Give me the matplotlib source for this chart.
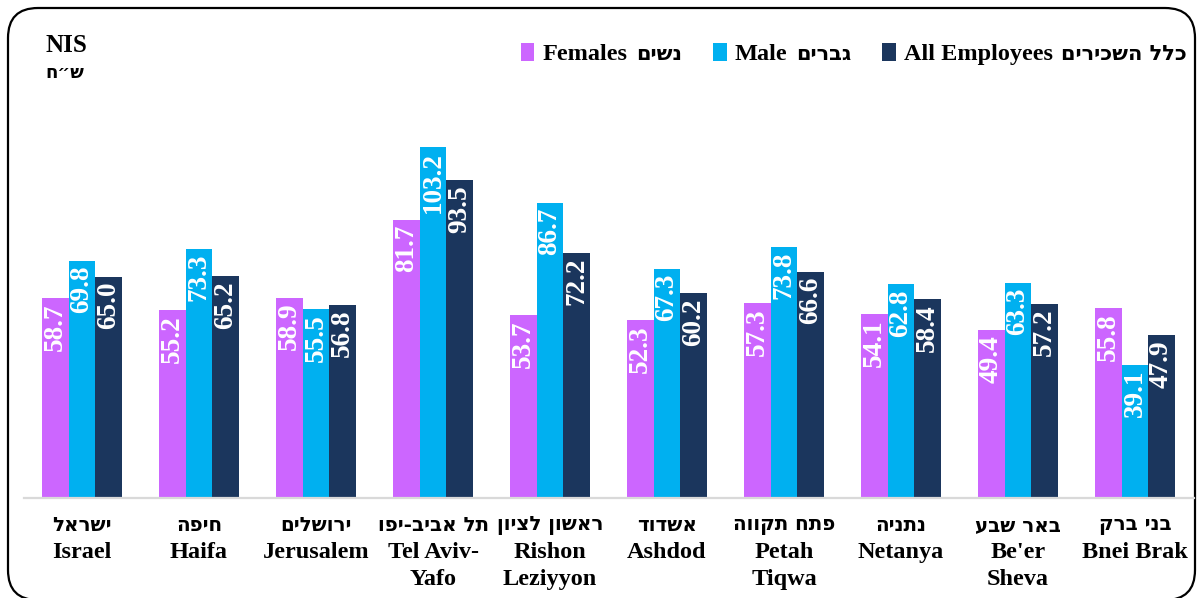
import matplotlib.pyplot as plt
import numpy as np
from matplotlib.patches import FancyBboxPatch, Rectangle
from matplotlib.offsetbox import (AnchoredOffsetbox, DrawingArea, HPacker,
                                  TextArea)

# city labels (Hebrew line, English line)
cities_he = ["ישראל", "חיפה", "ירושלים", "תל אביב-יפו", "ראשון לציון",
             "אשדוד", "פתח תקווה", "נתניה", "באר שבע", "בני ברק"]
cities_en = ["Israel", "Haifa", "Jerusalem", "Tel Aviv-\nYafo", "Rishon\nLeziyyon",
             "Ashdod", "Petah\nTiqwa", "Netanya", "Be'er\nSheva", "Bnei Brak"]

females = [58.7, 55.2, 58.9, 81.7, 53.7, 52.3, 57.3, 54.1, 49.4, 55.8]
males = [69.8, 73.3, 55.5, 103.2, 86.7, 67.3, 73.8, 62.8, 63.3, 39.1]
all_emp = [65.0, 65.2, 56.8, 93.5, 72.2, 60.2, 66.6, 58.4, 57.2, 47.9]

names_en = ["Females", "Male", "All Employees"]
names_he = ["נשים", "גברים", "כלל השכירים"]
colors = ["#CC66FF", "#00B0F0", "#1B365D"]

SERIF = "Liberation Serif"
HEB = "DejaVu Sans"


def main():
    fig = plt.figure(figsize=(11.98, 5.98), dpi=100)

    # frame with rounded corners, drawn in pixel coords
    bg = fig.add_axes([0, 0, 1, 1], zorder=-1)
    bg.set_xlim(0, 1198)
    bg.set_ylim(598, 0)
    bg.axis("off")
    bg.add_patch(FancyBboxPatch((8, 8), 1187, 592,
                                boxstyle="round,pad=0,rounding_size=30",
                                fc="white", ec="black", lw=1.6))

    ax = fig.add_axes([23.5 / 1198, 100 / 598, 1170 / 1198, 476 / 598])
    ax.patch.set_alpha(0)
    x = np.arange(len(cities_en))
    w = 0.227
    for i, (vals, c) in enumerate(zip([females, males, all_emp], colors)):
        bars = ax.bar(x + (i - 1) * w, vals, w, color=c, zorder=2)
        for b, v in zip(bars, vals):
            ax.annotate(f"{v:.1f}", (b.get_x() + b.get_width() / 2, v),
                        xytext=(0, -3.5), textcoords="offset points",
                        rotation=90, ha="center", va="top", color="white",
                        fontsize=19.5, fontweight="bold", family=SERIF)

    ax.set_xlim(-0.5, len(x) - 0.5)
    ax.set_ylim(0, 140)
    ax.set_xticks([])
    ax.set_yticks([])
    for s in ["top", "left", "right"]:
        ax.spines[s].set_visible(False)
    ax.spines["bottom"].set_color("#D9D9D9")
    ax.spines["bottom"].set_linewidth(1.6)

    tr = ax.get_xaxis_transform()
    for xi, he, en in zip(x, cities_he, cities_en):
        ax.text(xi, -0.058, he[::-1], transform=tr, ha="center", va="center",
                fontsize=14.3, fontweight="bold", family=HEB)
        ax.text(xi, -0.092, en, transform=tr, ha="center", va="top",
                fontsize=17.5, fontweight="bold", family=SERIF, linespacing=1.36)

    fig.text(45 / 1198, 1 - 46 / 598, "NIS", ha="left", va="center",
             fontsize=18, fontweight="bold", family=SERIF)
    fig.text(45 / 1198, 1 - 73 / 598, "ש״ח"[::-1], ha="left", va="center",
             fontsize=13, fontweight="bold", family=HEB)

    # legend: square + English (serif) + Hebrew (sans), packed in a row
    items = []
    for c, en, he in zip(colors, names_en, names_he):
        da = DrawingArea(10, 13, 0, 1)
        da.add_artist(Rectangle((0, -1), 10, 13, fc=c, ec="none"))
        t_en = TextArea(en, textprops=dict(fontsize=17.5, fontweight="bold",
                                           family=SERIF))
        t_he = TextArea(he[::-1], textprops=dict(fontsize=15, fontweight="bold",
                                                 family=HEB))
        items.append(HPacker(children=[da, t_en, t_he], sep=6, align="baseline"))
    row = HPacker(children=items, sep=22, align="baseline")
    leg = AnchoredOffsetbox(loc="center right", child=row, pad=0, borderpad=0,
                            frameon=False,
                            bbox_to_anchor=(1187 / 1198, 1 - 54 / 598),
                            bbox_transform=fig.transFigure)
    fig.add_artist(leg)

    fig.savefig("out.png", dpi=100)


if __name__ == "__main__":
    main()
